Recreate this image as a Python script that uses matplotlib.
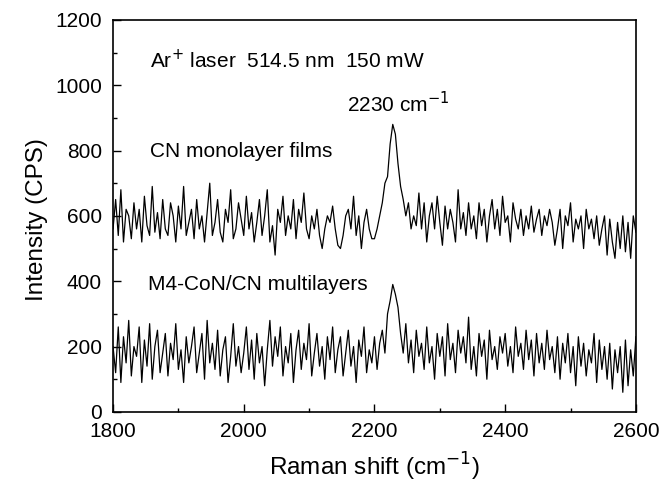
import numpy as np
import matplotlib
matplotlib.use("Agg")
import matplotlib.pyplot as plt
from matplotlib.ticker import MultipleLocator

plt.rcParams['font.family'] = ['Liberation Sans', 'DejaVu Sans']

shift_start = 1800
shift_step = 4

cn_mono = [
    560, 650, 540, 680, 520, 620, 600, 530, 640, 560,
    620, 520, 660, 570, 540, 690, 550, 610, 530, 650,
    560, 540, 640, 600, 520, 630, 560, 690, 540, 580,
    620, 530, 650, 560, 600, 520, 610, 700, 540, 580,
    650, 550, 520, 620, 580, 680, 530, 560, 640, 590,
    540, 660, 560, 610, 520, 580, 650, 540, 600, 680,
    520, 570, 480, 620, 580, 660, 540, 600, 560, 650,
    530, 620, 580, 670, 560, 530, 600, 560, 620, 540,
    500, 560, 600, 580, 630, 560, 510, 500, 540, 600,
    620, 560, 660, 540, 600, 500, 580, 620, 560, 530,
    530, 560, 600, 640, 700, 720, 820, 880, 850, 760,
    690, 650, 600, 640, 560, 600, 570, 670, 560, 640,
    520, 600, 640, 560, 660, 580, 510, 630, 560, 620,
    580, 520, 680, 560, 610, 540, 640, 560, 600, 530,
    640, 570, 620, 520, 600, 650, 560, 620, 540, 660,
    580, 600, 520, 640, 590, 560, 620, 540, 600, 560,
    630, 550, 590, 620, 540, 600, 570, 620, 580, 510,
    560, 620, 500, 600, 570, 640, 520, 590, 560, 600,
    500, 620, 560, 590, 530, 600, 510, 560, 600, 480,
    590, 520, 470, 580, 500, 600, 490, 580, 470, 600,
    550,
]

m4_multi = [
    200, 120, 260, 90, 230, 150, 280, 110, 200, 170,
    260, 90, 220, 140, 270, 100, 200, 250, 120, 180,
    240, 110, 210, 160, 270, 130, 190, 90, 230, 150,
    200, 260, 120, 180, 240, 100, 280, 150, 210, 130,
    250, 110, 190, 230, 90, 170, 270, 140, 200, 120,
    180, 260, 130, 220, 100, 240, 150, 200, 80, 190,
    280, 140, 230, 170, 260, 110, 200, 150, 240, 90,
    190, 250, 130, 210, 160, 270, 110, 180, 240, 140,
    200, 100, 230, 160, 260, 120, 190, 230, 110, 180,
    250, 140, 200, 90, 220, 170, 260, 120, 190, 150,
    230, 130, 210, 250, 180, 300, 340, 390, 360, 320,
    240, 180, 270, 150, 220, 120, 250, 170, 210, 130,
    260, 150, 200, 100, 240, 170, 230, 110, 270, 160,
    210, 120, 250, 180, 230, 150, 290, 130, 200, 110,
    240, 170, 220, 100, 250, 160, 200, 130, 230, 180,
    240, 140, 200, 120, 260, 170, 210, 130, 250, 160,
    220, 110, 240, 150, 210, 130, 250, 160, 200, 120,
    230, 100, 210, 150, 240, 120, 200, 80, 230, 140,
    210, 110, 190, 150, 240, 90, 220, 130, 200, 100,
    210, 70, 190, 120, 200, 60, 220, 80, 190, 110,
    230,
]

shift = shift_start + shift_step * np.arange(len(cn_mono))

fig = plt.figure(figsize=(6.61, 4.84), dpi=100)
ax = fig.add_axes([0.171, 0.149, 0.791, 0.810])

ax.plot(shift, cn_mono, color='black', lw=0.9)
ax.plot(shift, m4_multi, color='black', lw=0.9)

ax.set_xlim(1800, 2600)
ax.set_ylim(0, 1200)
ax.xaxis.set_major_locator(MultipleLocator(200))
ax.xaxis.set_minor_locator(MultipleLocator(100))
ax.yaxis.set_major_locator(MultipleLocator(200))
ax.yaxis.set_minor_locator(MultipleLocator(100))
ax.tick_params(which='both', direction='in', labelsize=15, width=1)
ax.tick_params(which='major', length=6)
ax.tick_params(which='minor', length=3)
ax.tick_params(axis='x', pad=7)
ax.tick_params(axis='y', pad=8)
for s in ax.spines.values():
    s.set_linewidth(1.2)

ax.set_xlabel('Raman shift (cm$^{-1}$)', fontsize=17.5)
ax.set_ylabel('Intensity (CPS)', fontsize=17.5)
ax.xaxis.set_label_coords(0.5, -0.1)
ax.yaxis.set_label_coords(-0.125, 0.49)

ax.text(1857, 1077, 'Ar$^{+}$ laser  514.5 nm  150 mW', fontsize=15, va='center')
ax.text(2158, 945, '2230 cm$^{-1}$', fontsize=15, va='center')
ax.text(1857, 796, 'CN monolayer films', fontsize=15, va='center')
ax.text(1853, 389, 'M4-CoN/CN multilayers', fontsize=15, va='center')

fig.savefig('out.png', dpi=100)
